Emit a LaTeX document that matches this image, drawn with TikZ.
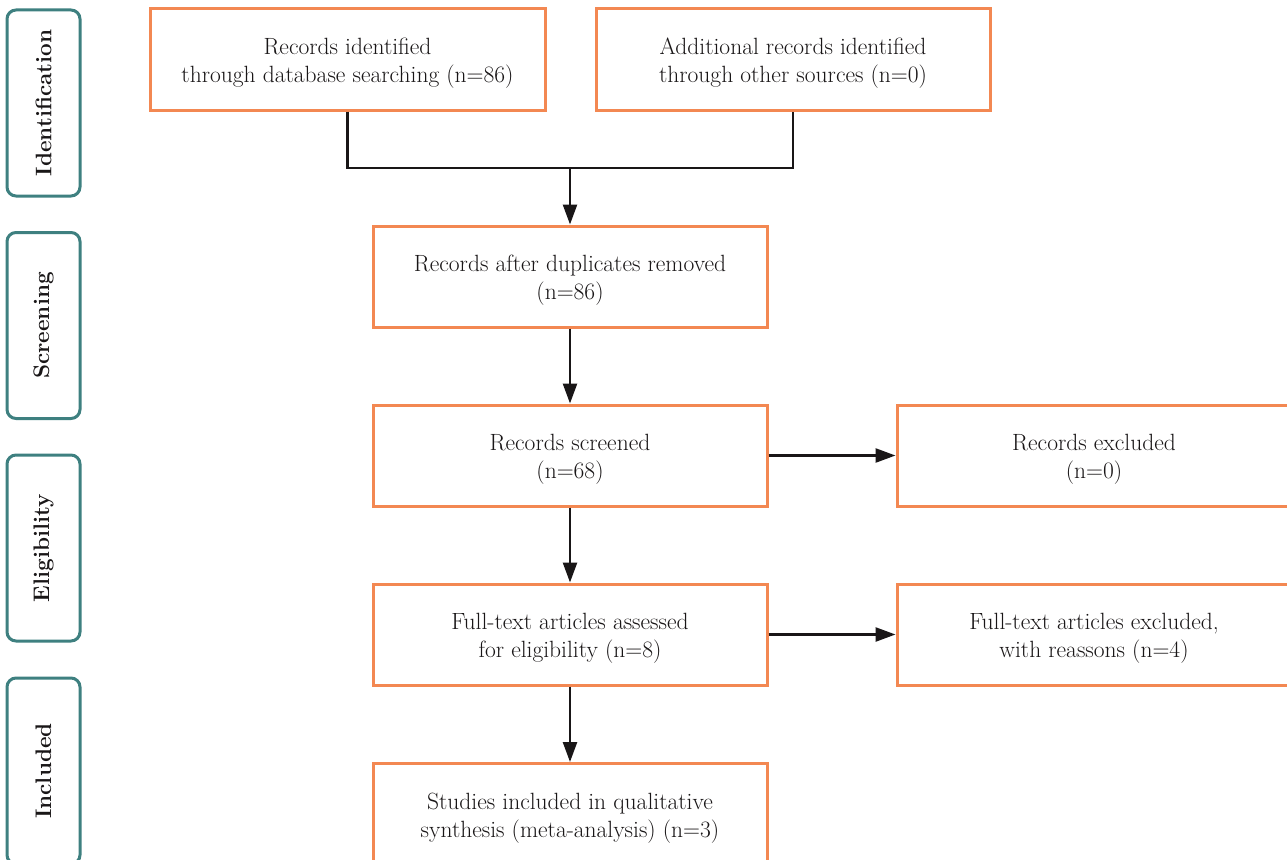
\documentclass[tikz,border=0pt]{standalone}
\usetikzlibrary{arrows.meta}
\definecolor{boxorange}{RGB}{243,136,82}
\definecolor{sideteal}{RGB}{62,128,128}
\definecolor{ink}{RGB}{25,22,23}
\newcommand{\twoline}[2]{\raisebox{-3.5pt}[\height][\depth]{\begin{tabular}{@{}c@{}}#1\\#2\end{tabular}}}
\begin{document}
\begin{tikzpicture}[x=1pt,y=-1pt,
  mainbox/.style={draw=boxorange,line width=3pt,fill=white,minimum width=394pt,minimum height=101pt,align=center,inner sep=0pt,text=ink,font=\fontsize{23.5}{28}\selectfont},
  sidebox/.style={draw=sideteal,line width=3pt,rounded corners=9pt,rotate=90,minimum width=186pt,minimum height=73pt,inner sep=0pt,text=ink,font=\fontsize{22.5}{26}\selectfont\bfseries},
  conn/.style={draw=ink,line width=2.5pt},
  arr/.style={conn,-{Triangle[length=20pt,width=14pt]}}]
\clip (0,0) rectangle (1287,859);
\fill[white] (0,0) rectangle (1287,859);
% side labels
\node[sidebox] (sid) at (43.5,103) {Identification};
\node[sidebox] (sscr) at (43.5,325.5) {Screening};
\node[sidebox] (selig) at (43.5,548) {Eligibility};
\node[sidebox] (sinc) at (43.5,771) {Included};
% boxes
\node[mainbox,minimum width=395pt] (b1) at (347.5,59.5) {\twoline{Records identified}{through database searching (n=86)}};
\node[mainbox] (b2) at (793,59.5) {\twoline{Additional records identified}{through other sources (n=0)}};
\node[mainbox] (b3) at (570,276.5) {\twoline{Records after duplicates removed}{(n=86)}};
\node[mainbox] (b4) at (570,455.5) {\twoline{Records screened}{(n=68)}};
\node[mainbox] (e1) at (1094,455.5) {\twoline{Records excluded}{(n=0)}};
\node[mainbox] (b5) at (570,634.5) {\twoline{Full-text articles assessed}{for eligibility (n=8)}};
\node[mainbox] (e2) at (1094,634.5) {\twoline{Full-text articles excluded,}{with reassons (n=4)}};
\node[mainbox] (b6) at (570,814) {\twoline{Studies included in qualitative}{synthesis (meta-analysis) (n=3)}};
% connectors
\coordinate (j) at (570,168);
\draw[conn] (b1.south) |- (j) -| (b2.south);
\draw[arr] (j) -- (b3.north);
\draw[arr] (b3.south) -- (b4.north);
\draw[arr] (b4.east) -- (e1.west);
\draw[arr] (b4.south) -- (b5.north);
\draw[arr] (b5.east) -- (e2.west);
\draw[arr] (b5.south) -- (b6.north);
\end{tikzpicture}
\end{document}
